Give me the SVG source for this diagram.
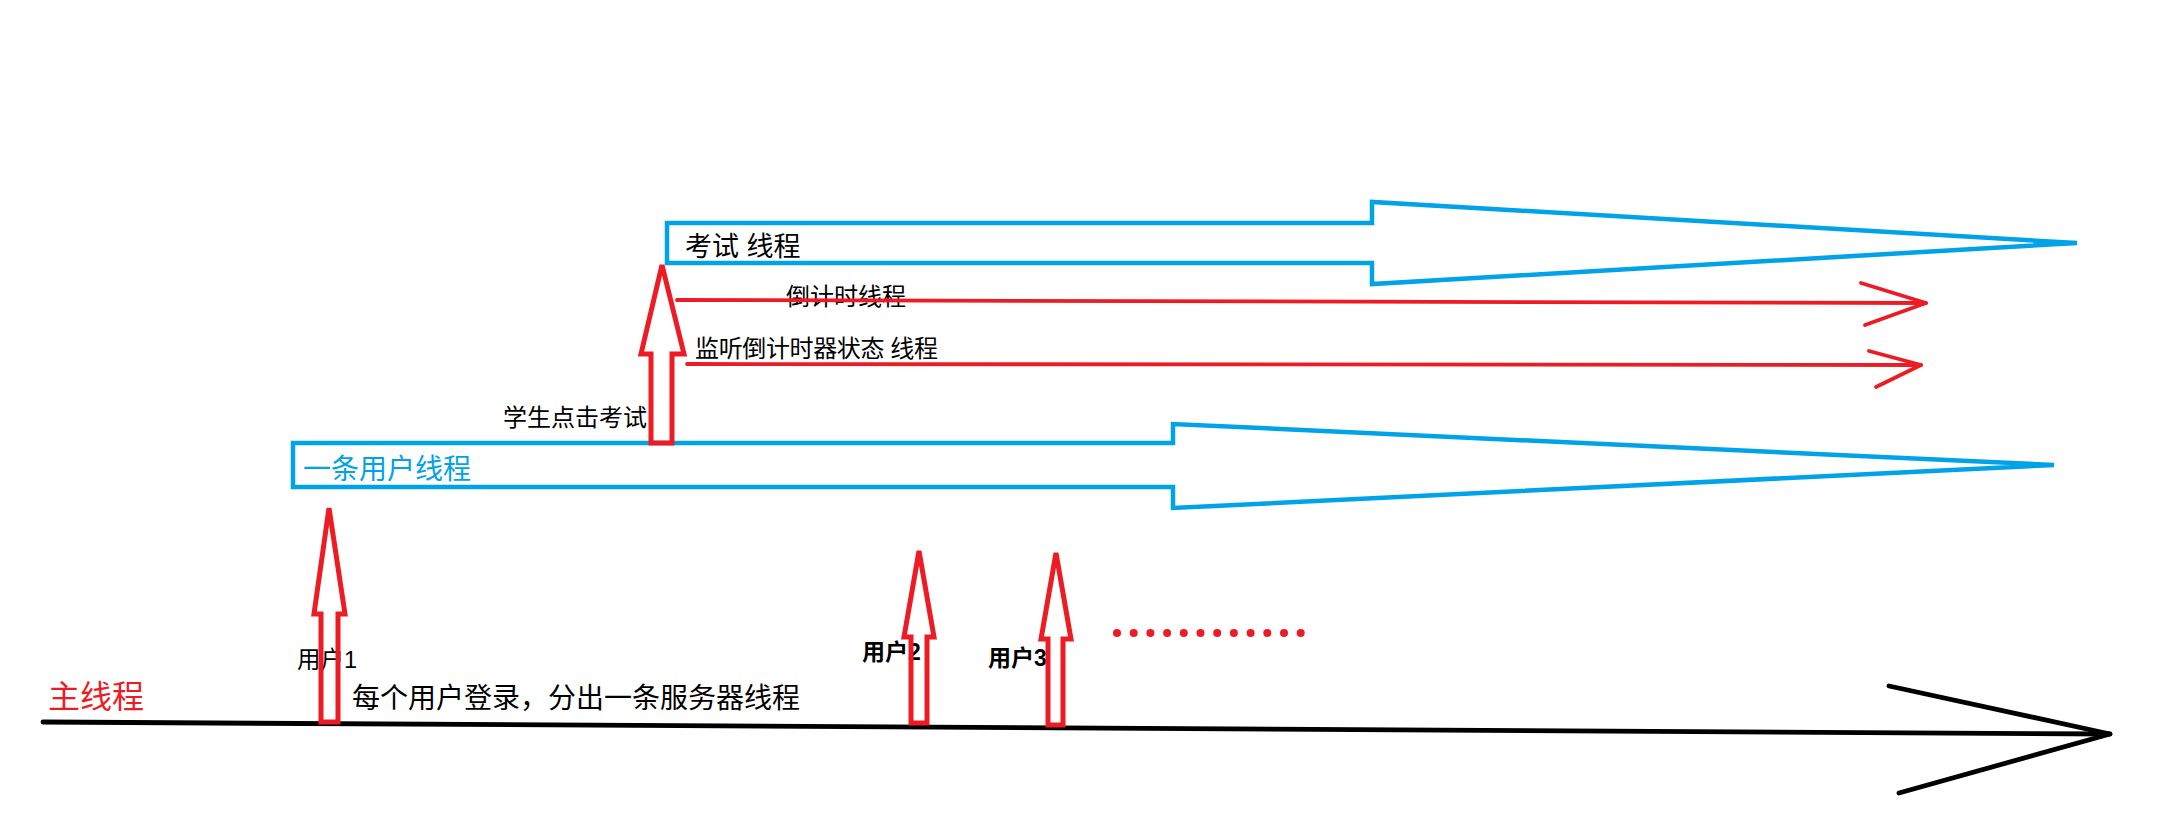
<svg xmlns="http://www.w3.org/2000/svg" width="2167" height="822" viewBox="0 0 2167 822">
<style>
.t{font-family:"Liberation Sans","Noto Sans CJK SC",sans-serif;fill:#000}
.blue{fill:none;stroke:#00A2E8;stroke-width:4.5;stroke-linejoin:miter}
.redblk{fill:none;stroke:#ED1C24;stroke-width:5;stroke-linejoin:miter}
.redln{fill:none;stroke:#ED1C24;stroke-width:3.8;stroke-linecap:round;stroke-linejoin:round}
.main{fill:none;stroke:#000;stroke-width:4.8;stroke-linecap:round;stroke-linejoin:round}
</style>
<rect width="2167" height="822" fill="#fff"/>
<g id="main-thread">
  <path class="main" d="M43,722 L2110,734"/>
  <path class="main" d="M1889,686 L2110,734 L1899,793"/>
  <text class="t" x="48" y="708" font-size="32" style="fill:#ED1C24">主线程</text>
  <text class="t" x="352" y="708" font-size="28">每个用户登录，分出一条服务器线程</text>
</g>
<g id="user-thread">
  <path class="blue" d="M293,443 L1173,443 L1173,424 L2054,465 L1173,508 L1173,487 L293,487 Z"/>
  <text class="t" x="303" y="479" font-size="28" style="fill:#00A2E8">一条用户线程</text>
</g>
<g id="exam-thread">
  <path class="blue" d="M667,223 L1372,223 L1372,202 L2077,243 L1372,284 L1372,263 L667,263 Z"/>
  <text class="t" x="685" y="256" font-size="27">考试 线程</text>
</g>
<g id="countdown-thread">
  <text class="t" x="786" y="305" font-size="24">倒计时线程</text>
</g>
<g id="listen-thread">
  <text class="t" x="695" y="357" font-size="24" textLength="243">监听倒计时器状态 线程</text>
</g>
<g id="user1">
  <text class="t" x="297" y="668" font-size="23.5">用户1</text>
</g>
<g id="user2">
  <text class="t" x="862" y="660" font-size="23" font-weight="bold">用户2</text>
</g>
<g id="user3">
  <text class="t" x="988" y="666" font-size="23" font-weight="bold">用户3</text>
</g>
<g id="student-click">
  <text class="t" x="503" y="426" font-size="24">学生点击考试</text>
</g>
<g id="more-users" fill="#ED1C24">
  <circle cx="1117" cy="633" r="4"/><circle cx="1133.7" cy="633" r="4"/><circle cx="1150.4" cy="633" r="4"/><circle cx="1167.1" cy="633" r="4"/>
  <circle cx="1183.8" cy="633" r="4"/><circle cx="1200.5" cy="633" r="4"/><circle cx="1217.2" cy="633" r="4"/><circle cx="1233.9" cy="633" r="4"/>
  <circle cx="1250.6" cy="633" r="4"/><circle cx="1267.3" cy="633" r="4"/><circle cx="1284" cy="633" r="4"/><circle cx="1300.7" cy="633" r="4"/>
</g>
<g id="connectors">
  <path class="redblk" d="M321,722 L321,614 L314,614 L329,508 L345,614 L338,614 L338,722 Z"/>
  <path class="redblk" d="M911,723 L911,637 L904,637 L919,551 L934,637 L927,637 L927,723 Z"/>
  <path class="redblk" d="M1048,725 L1048,639 L1041,639 L1056,553 L1071,639 L1063,639 L1063,725 Z"/>
  <path class="redblk" d="M651,443 L651,354 L641,354 L662,265 L684,354 L672,354 L672,443 Z"/>
  <path class="redln" d="M677,300 L1926,303"/>
  <path class="redln" d="M1861,283 L1926,303 L1865,325"/>
  <path class="redln" d="M687,364 L1921,365"/>
  <path class="redln" d="M1869,351 L1921,365 L1876,387"/>
</g>
</svg>
